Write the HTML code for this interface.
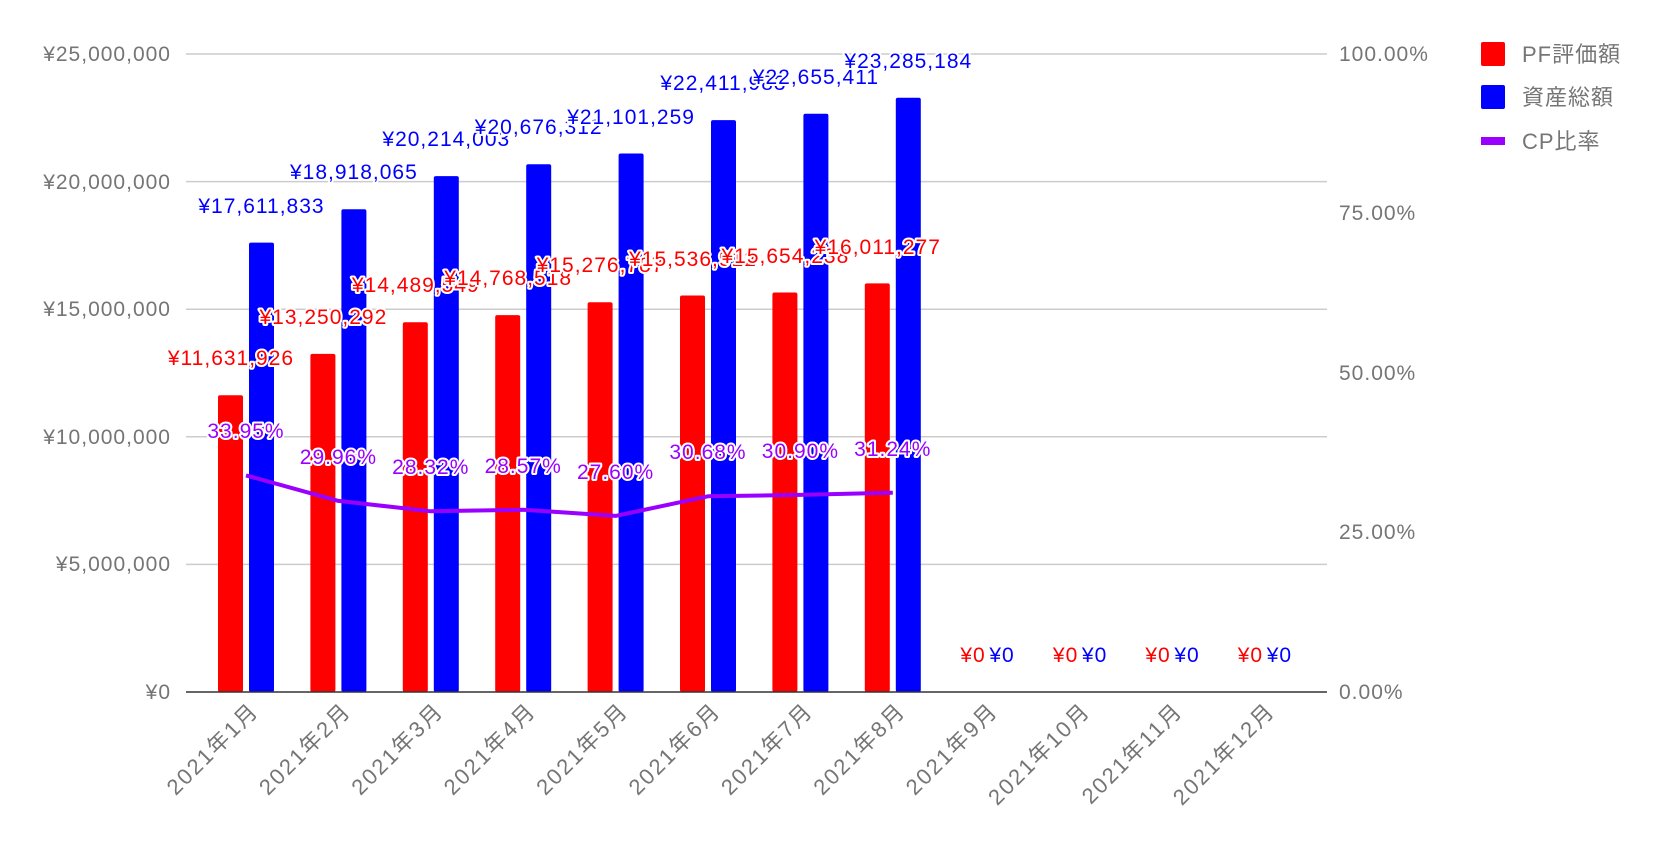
<!DOCTYPE html>
<html><head><meta charset="utf-8"><style>
html,body{margin:0;padding:0;background:#fff;}
svg text{font-family:"Liberation Sans","Noto Sans CJK JP",sans-serif;}
.ax{fill:#757575;font-size:21px;letter-spacing:1px;}
.xl{fill:#757575;font-size:22px;letter-spacing:2px;}
.lb{font-size:21px;letter-spacing:1px;paint-order:stroke;stroke:#fff;stroke-width:4px;stroke-linejoin:round;text-anchor:middle;}
.r{fill:#ff0000}.b{fill:#0000ff}.p{fill:#9900ff}
</style></head><body>
<svg width="1664" height="846" xmlns="http://www.w3.org/2000/svg">
<g stroke="#cccccc" stroke-width="1.5">
<line x1="186" y1="54" x2="1327" y2="54"/>
<line x1="186" y1="181.6" x2="1327" y2="181.6"/>
<line x1="186" y1="309.2" x2="1327" y2="309.2"/>
<line x1="186" y1="436.8" x2="1327" y2="436.8"/>
<line x1="186" y1="564.4" x2="1327" y2="564.4"/>
</g>
<g class="ax" text-anchor="end">
<text x="171" y="61">¥25,000,000</text>
<text x="171" y="189">¥20,000,000</text>
<text x="171" y="316">¥15,000,000</text>
<text x="171" y="444">¥10,000,000</text>
<text x="171" y="571">¥5,000,000</text>
<text x="171" y="699">¥0</text>
</g>
<g class="ax">
<text x="1339" y="61">100.00%</text>
<text x="1339" y="220">75.00%</text>
<text x="1339" y="380">50.00%</text>
<text x="1339" y="539">25.00%</text>
<text x="1339" y="699">0.00%</text>
</g>
<g fill="#ff0000">
<rect x="218" y="395.2" width="25" height="296.8" rx="2"/>
<rect x="310.4" y="353.9" width="25" height="338.1" rx="2"/>
<rect x="402.8" y="322.2" width="25" height="369.8" rx="2"/>
<rect x="495.2" y="315.1" width="25" height="376.9" rx="2"/>
<rect x="587.6" y="302.2" width="25" height="389.8" rx="2"/>
<rect x="680" y="295.5" width="25" height="396.5" rx="2"/>
<rect x="772.4" y="292.5" width="25" height="399.5" rx="2"/>
<rect x="864.8" y="283.4" width="25" height="408.6" rx="2"/>
</g>
<g fill="#0000ff">
<rect x="249" y="242.6" width="25" height="449.4" rx="2"/>
<rect x="341.4" y="209.2" width="25" height="482.8" rx="2"/>
<rect x="433.8" y="176.1" width="25" height="515.9" rx="2"/>
<rect x="526.2" y="164.3" width="25" height="527.7" rx="2"/>
<rect x="618.6" y="153.5" width="25" height="538.5" rx="2"/>
<rect x="711" y="120.1" width="25" height="571.9" rx="2"/>
<rect x="803.4" y="113.8" width="25" height="578.2" rx="2"/>
<rect x="895.8" y="97.8" width="25" height="594.2" rx="2"/>
</g>
<line x1="186" y1="692" x2="1327" y2="692" stroke="#333" stroke-width="1.5"/>
<polyline fill="none" stroke="#9900ff" stroke-width="4" stroke-linejoin="round" points="246,475.4 338.4,500.9 430.8,511.3 523.2,509.7 615.6,515.9 708,496.3 800.4,494.9 892.8,492.7"/>
<g class="lb r">
<text x="231" y="365">¥11,631,926</text>
<text x="323.4" y="324">¥13,250,292</text>
<text x="415.8" y="292">¥14,489,549</text>
<text x="508.2" y="285">¥14,768,518</text>
<text x="600.6" y="272">¥15,276,787</text>
<text x="693" y="266">¥15,536,912</text>
<text x="785.4" y="263">¥15,654,238</text>
<text x="877.8" y="254">¥16,011,277</text>
</g>
<g class="lb b">
<text x="261.5" y="213">¥17,611,833</text>
<text x="353.9" y="179">¥18,918,065</text>
<text x="446.3" y="146">¥20,214,003</text>
<text x="538.7" y="134">¥20,676,312</text>
<text x="631.1" y="124">¥21,101,259</text>
<text x="723.5" y="90">¥22,411,983</text>
<text x="815.9" y="84">¥22,655,411</text>
<text x="908.3" y="68">¥23,285,184</text>
</g>
<g class="lb p">
<text x="246" y="438">33.95%</text>
<text x="338.4" y="464">29.96%</text>
<text x="430.8" y="474">28.32%</text>
<text x="523.2" y="473">28.57%</text>
<text x="615.6" y="479">27.60%</text>
<text x="708" y="459">30.68%</text>
<text x="800.4" y="458">30.90%</text>
<text x="892.8" y="456">31.24%</text>
</g>
<g class="lb">
<text class="r" x="973" y="662">¥0</text><text class="b" x="1002" y="662">¥0</text>
<text class="r" x="1065.6" y="662">¥0</text><text class="b" x="1094.6" y="662">¥0</text>
<text class="r" x="1158" y="662">¥0</text><text class="b" x="1187" y="662">¥0</text>
<text class="r" x="1250.4" y="662">¥0</text><text class="b" x="1279.4" y="662">¥0</text>
</g>
<g class="xl" text-anchor="end">
<text transform="translate(260,712) rotate(-45)">2021年1月</text>
<text transform="translate(352.4,712) rotate(-45)">2021年2月</text>
<text transform="translate(444.8,712) rotate(-45)">2021年3月</text>
<text transform="translate(537.2,712) rotate(-45)">2021年4月</text>
<text transform="translate(629.6,712) rotate(-45)">2021年5月</text>
<text transform="translate(722,712) rotate(-45)">2021年6月</text>
<text transform="translate(814.4,712) rotate(-45)">2021年7月</text>
<text transform="translate(906.8,712) rotate(-45)">2021年8月</text>
<text transform="translate(999.2,712) rotate(-45)">2021年9月</text>
<text transform="translate(1091.6,712) rotate(-45)">2021年10月</text>
<text transform="translate(1184,712) rotate(-45)">2021年11月</text>
<text transform="translate(1276.4,712) rotate(-45)">2021年12月</text>
</g>
<rect x="1481" y="42" width="24" height="24" rx="2" fill="#ff0000"/>
<rect x="1481" y="85" width="24" height="24" rx="2" fill="#0000ff"/>
<rect x="1481" y="137" width="24" height="8" fill="#9900ff"/>
<g class="ax" style="font-size:22px">
<text x="1522" y="62">PF評価額</text>
<text x="1522" y="105">資産総額</text>
<text x="1522" y="149">CP比率</text>
</g>
</svg>
</body></html>
